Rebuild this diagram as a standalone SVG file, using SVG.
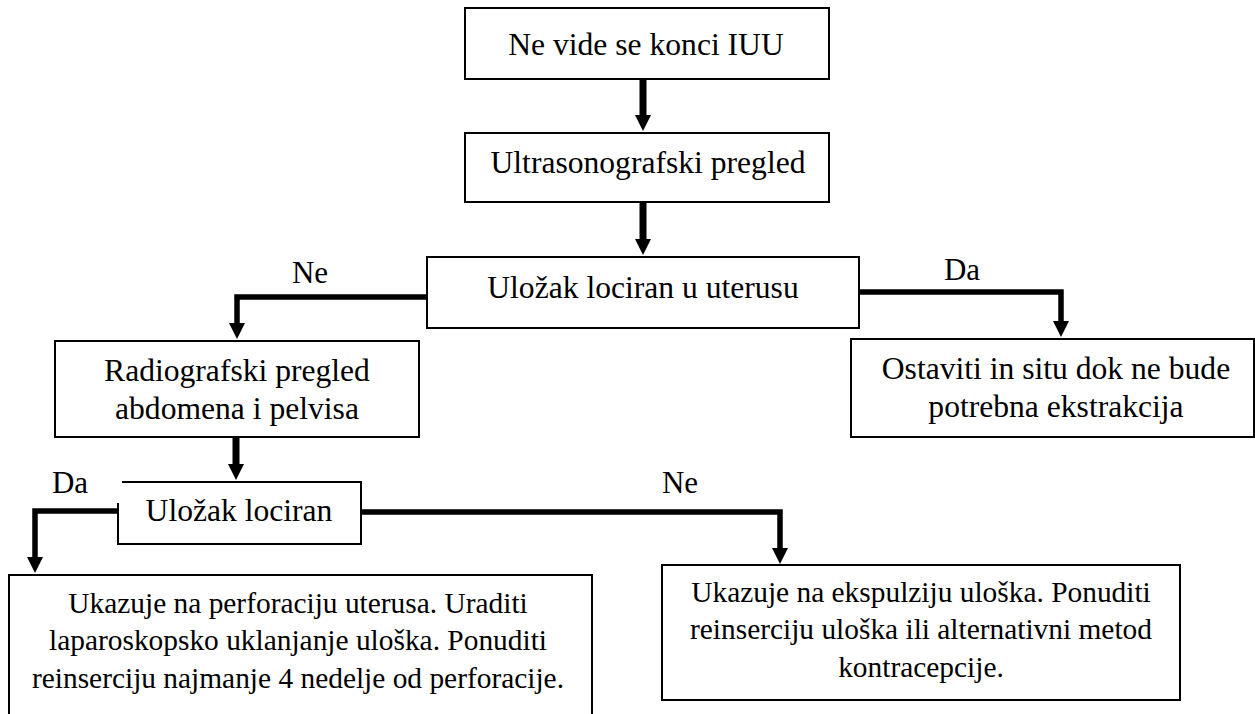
<svg xmlns="http://www.w3.org/2000/svg" width="1255" height="714" viewBox="0 0 1255 714" font-family="'Liberation Serif', 'DejaVu Serif', serif">
<style>
.box{fill:#fff;stroke:#000;stroke-width:2}
text{font-family:'Liberation Serif','DejaVu Serif',serif;fill:#000;text-anchor:middle}
.t{font-size:31.6px}
.s{font-size:29.4px}
.lbl{font-size:31px}
.c{fill:none;stroke:#000;stroke-linejoin:miter;marker-end:url(#ah)}
.w7{stroke-width:7}
.w5{stroke-width:5.5}
</style>
<defs>
<marker id="ah" markerUnits="userSpaceOnUse" viewBox="0 -8 16 16" refX="0" refY="0" markerWidth="16" markerHeight="16" orient="auto">
<path d="M0,-8 L16,0 L0,8 z" fill="#000"/>
</marker>
</defs>
<rect width="1255" height="714" fill="#fff"/>
<g id="connectors">
<path class="c w7" d="M643,79 V115"/>
<path class="c w7" d="M643,202 V239"/>
<path class="c w5" d="M427,297 H237 V323"/>
<path class="c w5" d="M859,292 H1061 V321"/>
<path class="c w7" d="M236,437 V464"/>
<path class="c w5" d="M118,511 H35 V557"/>
<path class="c w5" d="M361,512 H780 V548"/>
</g>
<g id="labels">
<text class="lbl" x="310" y="283">Ne</text>
<text class="lbl" x="962" y="280">Da</text>
<text class="lbl" x="70" y="493">Da</text>
<text class="lbl" x="680" y="493">Ne</text>
</g>
<g id="n1">
<rect class="box" x="465" y="8" width="364" height="71"/>
<text class="t" x="646" y="55">Ne vide se konci IUU</text>
</g>
<g id="n2">
<rect class="box" x="465" y="133" width="364" height="69"/>
<text class="t" x="648" y="173">Ultrasonografski pregled</text>
</g>
<g id="n3">
<rect class="box" x="427" y="257" width="432" height="71"/>
<text class="t" x="643" y="298">Uložak lociran u uterusu</text>
</g>
<g id="n4">
<rect class="box" x="851" y="339" width="403" height="98"/>
<text class="t" x="1056" y="379">Ostaviti in situ dok ne bude</text>
<text class="t" x="1056" y="417">potrebna ekstrakcija</text>
</g>
<g id="n5">
<rect class="box" x="55" y="341" width="364" height="96"/>
<text class="t" x="237" y="381">Radiografski pregled</text>
<text class="t" x="237" y="419">abdomena i pelvisa</text>
</g>
<g id="n6">
<path class="box" d="M122,482 H361 V544 H118 V503"/>
<text class="t" x="239" y="521">Uložak lociran</text>
</g>
<g id="n7">
<rect class="box" x="9" y="575" width="583" height="160"/>
<text class="s" x="298" y="613">Ukazuje na perforaciju uterusa. Uraditi</text>
<text class="s" x="298" y="650">laparoskopsko uklanjanje uloška. Ponuditi</text>
<text class="s" x="298" y="688">reinserciju najmanje 4 nedelje od perforacije.</text>
</g>
<g id="n8">
<rect class="box" x="662" y="565" width="518" height="135"/>
<text class="s" x="921" y="602">Ukazuje na ekspulziju uloška. Ponuditi</text>
<text class="s" x="921" y="639">reinserciju uloška ili alternativni metod</text>
<text class="s" x="921" y="677">kontracepcije.</text>
</g>
</svg>
